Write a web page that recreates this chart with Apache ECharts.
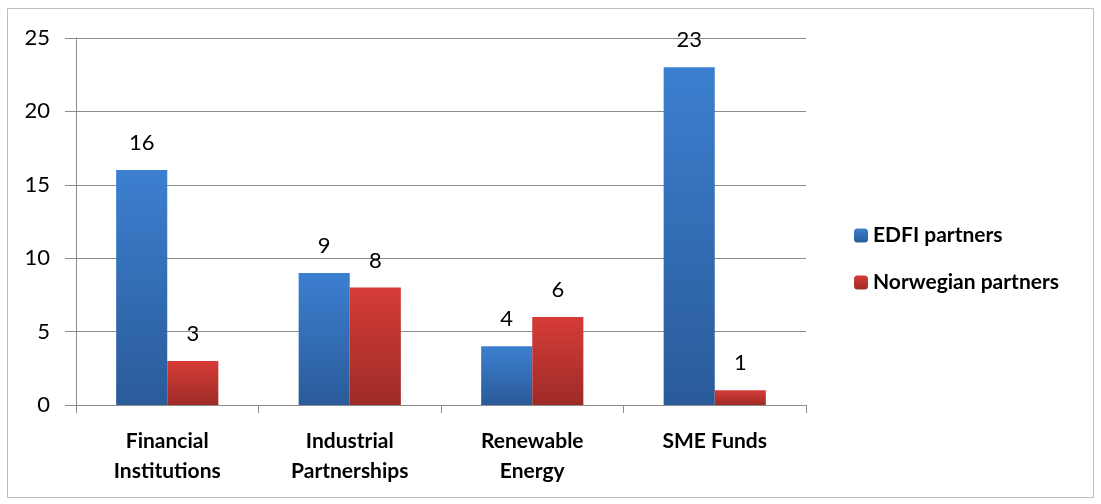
<!DOCTYPE html>
<html><head><meta charset="utf-8">
<script src="https://cdn.jsdelivr.net/npm/echarts@6/dist/echarts.min.js"></script>
<style>html,body{margin:0;padding:0;background:#fff}#c{width:1101px;height:504px}</style>
</head><body><div id="c"></div>
<script>
const categories = ['Financial\nInstitutions', 'Industrial\nPartnerships', 'Renewable\nEnergy', 'SME Funds'];
const edfi = [16, 9, 4, 23];
const norwegian = [3, 8, 6, 1];
const seriesNames = ['EDFI partners', 'Norwegian partners'];

const FONT = 'Lato';
const chart = echarts.init(document.getElementById('c'));
function grad(top, bottom) {
  return new echarts.graphic.LinearGradient(0, 0, 0, 1, [{offset: 0, color: top}, {offset: 1, color: bottom}]);
}
const labelStyle = {show: true, position: 'top', distance: 16, color: '#000', fontFamily: FONT, fontSize: 22};
chart.setOption({
  backgroundColor: '#fff',
  graphic: [{type: 'rect', shape: {x: 7.5, y: 8.5, width: 1086, height: 489}, style: {fill: 'none', stroke: '#bdbdbd', lineWidth: 1}, silent: true, z: -1}],
  grid: {left: 76, right: 295, top: 38, bottom: 99},
  legend: {
    orient: 'vertical', left: 849, top: 220, itemWidth: 14, itemHeight: 14, itemGap: 26,
    textStyle: {fontFamily: FONT, fontSize: 21, color: '#000', fontWeight: 'bold'},
    data: seriesNames
  },
  xAxis: {
    type: 'category', data: categories,
    axisLine: {lineStyle: {color: '#8c8c8c', width: 1}},
    axisTick: {show: true, length: 8, lineStyle: {color: '#8c8c8c'}},
    axisLabel: {fontFamily: FONT, fontSize: 21, color: '#000', fontWeight: 'bold', margin: 21, lineHeight: 30}
  },
  yAxis: {
    type: 'value', min: 0, max: 25, interval: 5,
    axisLine: {show: true, lineStyle: {color: '#8c8c8c', width: 1}},
    axisTick: {show: true, length: 11, lineStyle: {color: '#8c8c8c'}},
    splitLine: {lineStyle: {color: '#8c8c8c', width: 1}},
    axisLabel: {fontFamily: FONT, fontSize: 22, color: '#000', margin: 26}
  },
  series: [
    {name: seriesNames[0], type: 'bar', data: edfi, barGap: '0%', barCategoryGap: '44%',
     itemStyle: {color: grad('#3c7fd0', '#2a5b99')}, label: labelStyle},
    {name: seriesNames[1], type: 'bar', data: norwegian,
     itemStyle: {color: grad('#d63c37', '#9e2b27')}, label: labelStyle}
  ]
});
</script></body></html>
